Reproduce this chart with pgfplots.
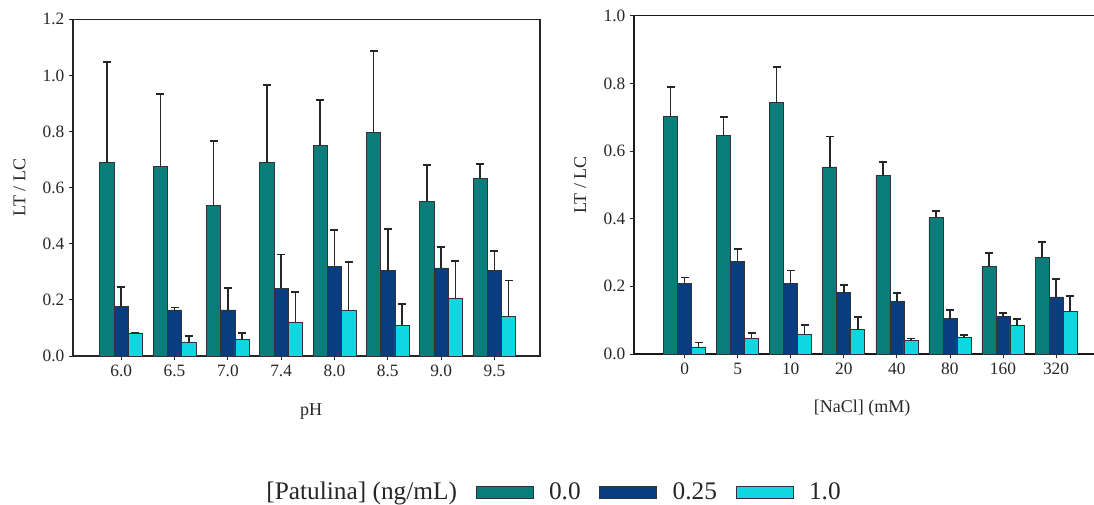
\documentclass[border=0pt]{standalone}
\usepackage{fontspec}
\setmainfont{Liberation Serif}
\usepackage{pgfplots}
\pgfplotsset{compat=1.18}
\definecolor{cTeal}{HTML}{097D7A}
\definecolor{cNavy}{HTML}{083D80}
\definecolor{cCyan}{HTML}{10D6E0}
\pgfplotsset{
  mybars/.style={
    scale only axis,
    ybar=0pt,
    ymin=0,
    xtick=data,
    tick align=outside,
    major tick length=3pt,
    xtick pos=bottom, ytick pos=left,
    tick style={black!85, line width=0.6pt},
    /pgf/number format/assume math mode=true,
    yticklabel style={/pgf/number format/fixed,/pgf/number format/fixed zerofill,/pgf/number format/precision=1},
    ticklabel style={font=\fontsize{13}{15}\selectfont, text=black!85},
    label style={font=\fontsize{13.5}{15}\selectfont, text=black!85},
    error bars/y dir=plus, error bars/y explicit,
    error bars/error mark=|,
    error bars/error bar style={black!85, line width=1.1pt},
    error bars/error mark options={black!85, mark size=3pt, line width=1.4pt},
  },
  sT/.style={fill=cTeal, draw=black!80, line width=0.5pt},
  sN/.style={fill=cNavy, draw=black!80, line width=0.5pt},
  sC/.style={fill=cCyan, draw=black!80, line width=0.5pt},
}
\begin{document}
\begin{tikzpicture}
\useasboundingbox (0,0) rectangle (820.5pt,378pt);
% ---------- left: pH ----------
\begin{axis}[mybars,
  at={(54.75pt,111pt)}, anchor=south west,
  width=350.25pt, height=252.5pt,
  xmin=-0.904, xmax=7.855,
  ymax=1.2, ytick={0,0.2,0.4,0.6,0.8,1.0,1.2},
  bar width=10.7pt,
  xticklabels={6.0,6.5,7.0,7.4,8.0,8.5,9.0,9.5},
  axis line style={black!85, line width=0.8pt},
  xlabel={pH}, ylabel={LT / LC},
  xlabel style={at={(axis description cs:0.51,-0.166)}, anchor=center},
  ylabel style={at={(axis description cs:-0.1143,0.5)}, anchor=center},
  legend columns=-1,
  legend style={draw=none, fill=none, at={(1.028,-0.404)}, anchor=center,
    font=\fontsize{19}{21}\selectfont, text=black!85,
    /tikz/every even column/.append style={column sep=12pt},
    /tikz/every odd column/.append style={column sep=9.75pt}},
  legend image code/.code={\draw[#1] (0pt,-4.5pt) rectangle (42.75pt,4.5pt);},
]
\addlegendimage{empty legend}
\addlegendentry{\hspace{-9pt}[Patulina] (ng/mL)\hspace{-6pt}}
\addplot+[sT] coordinates {
 (0,0.689) +- (0,0.359)
 (1,0.677) +- (0,0.258)
 (2,0.537) +- (0,0.230)
 (3,0.689) +- (0,0.277)
 (4,0.751) +- (0,0.160)
 (5,0.797) +- (0,0.291)
 (6,0.552) +- (0,0.128)
 (7,0.633) +- (0,0.051)
};
\addlegendentry{0.0}
\addplot+[sN] coordinates {
 (0,0.178) +- (0,0.069)
 (1,0.164) +- (0,0.009)
 (2,0.164) +- (0,0.078)
 (3,0.241) +- (0,0.121)
 (4,0.318) +- (0,0.132)
 (5,0.304) +- (0,0.149)
 (6,0.314) +- (0,0.075)
 (7,0.304) +- (0,0.069)
};
\addlegendentry{0.25}
\addplot+[sC] coordinates {
 (0,0.082) +- (0,0.002)
 (1,0.050) +- (0,0.021)
 (2,0.059) +- (0,0.024)
 (3,0.119) +- (0,0.109)
 (4,0.163) +- (0,0.172)
 (5,0.109) +- (0,0.075)
 (6,0.204) +- (0,0.135)
 (7,0.140) +- (0,0.129)
};
\addlegendentry{1.0}
\end{axis}
% ---------- right: NaCl ----------
\begin{axis}[mybars,
  at={(475.5pt,112.5pt)}, anchor=south west,
  width=345pt, height=253.7pt,
  xmin=-0.954, xmax=7.716,
  ymax=1.0, ytick={0,0.2,0.4,0.6,0.8,1.0},
  bar width=10.5pt,
  xticklabels={0,5,10,20,40,80,160,320},
  axis lines*=left,
  axis line style={-, black!90, line width=0.8pt},
  xlabel={[NaCl] (mM)}, ylabel={LT / LC},
  xlabel style={at={(axis description cs:0.496,-0.16)}, anchor=center},
  ylabel style={at={(axis description cs:-0.117,0.5)}, anchor=center},
  after end axis/.code={\draw[black!90, line width=0.8pt] (rel axis cs:0,1) -- (rel axis cs:1,1);},
]
\addplot+[sT] coordinates {
 (0,0.703) +- (0,0.087)
 (1,0.645) +- (0,0.055)
 (2,0.743) +- (0,0.106)
 (3,0.553) +- (0,0.090)
 (4,0.529) +- (0,0.038)
 (5,0.405) +- (0,0.017)
 (6,0.259) +- (0,0.040)
 (7,0.286) +- (0,0.046)
};
\addplot+[sN] coordinates {
 (0,0.209) +- (0,0.017)
 (1,0.273) +- (0,0.037)
 (2,0.208) +- (0,0.039)
 (3,0.181) +- (0,0.023)
 (4,0.155) +- (0,0.026)
 (5,0.104) +- (0,0.027)
 (6,0.110) +- (0,0.011)
 (7,0.169) +- (0,0.053)
};
\addplot+[sC] coordinates {
 (0,0.021) +- (0,0.013)
 (1,0.047) +- (0,0.016)
 (2,0.057) +- (0,0.029)
 (3,0.072) +- (0,0.038)
 (4,0.039) +- (0,0.007)
 (5,0.049) +- (0,0.008)
 (6,0.084) +- (0,0.020)
 (7,0.127) +- (0,0.044)
};
\end{axis}
\end{tikzpicture}
\end{document}
